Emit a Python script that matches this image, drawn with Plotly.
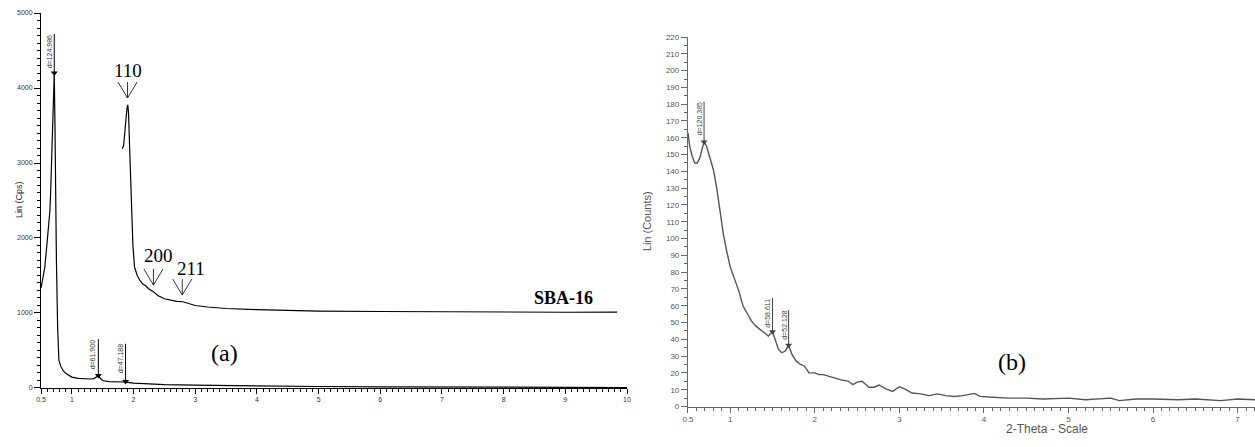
import plotly.graph_objects as go

# ---------------- Panel (a) data ----------------
a_x = [0.50, 0.53, 0.56, 0.60, 0.63, 0.645, 0.66, 0.68, 0.70, 0.715, 0.725, 0.735, 0.75, 0.77, 0.79,
       0.82, 0.86, 0.90, 0.95, 1.00, 1.10, 1.20, 1.30, 1.36, 1.40, 1.43, 1.46, 1.50, 1.60, 1.70,
       1.80, 1.85, 1.87, 1.90, 2.00, 2.20, 2.50, 3.00, 3.50, 4.00, 5.00, 6.00, 7.00, 8.00, 9.00, 10.0]
a_y = [1330, 1450, 1600, 1950, 2250, 2370, 2700, 3300, 3900, 4200, 3600, 2700, 1700, 800, 370,
       290, 230, 195, 165, 145, 128, 122, 120, 125, 145, 165, 130, 100, 85, 80,
       76, 80, 92, 74, 65, 55, 46, 38, 31, 26, 20, 16, 13, 11, 9, 6]

# SBA-16 pattern overlaid in panel (a)
s_x = [1.82, 1.84, 1.86, 1.88, 1.895, 1.908, 1.92, 1.935, 1.95, 1.97, 1.99, 2.016, 2.06, 2.10, 2.15,
       2.20, 2.25, 2.32, 2.40, 2.50, 2.60, 2.70, 2.80, 2.90, 3.00, 3.20, 3.50, 4.00, 4.50, 5.00,
       6.00, 7.00, 8.00, 9.00, 9.84]
s_y = [3190, 3240, 3420, 3620, 3740, 3775, 3650, 3250, 2800, 2300, 1900, 1615, 1500, 1440, 1385,
       1360, 1320, 1285, 1230, 1190, 1170, 1155, 1150, 1120, 1100, 1080, 1060, 1045, 1035, 1025,
       1020, 1015, 1012, 1010, 1012]

a_peaks_x = [0.715, 1.43, 1.871]
a_peaks_y = [4200, 165, 88]
a_peaks_top = [4720, 650, 590]
a_peak_labels = ["d=124.986", "d=61.900", "d=47.188"]
a_label_y = [4480, 440, 390]

miller_labels = ["110", "200", "211"]
miller_x = [1.903, 2.323, 2.790]
miller_tip_y = [3867, 1373, 1240]
miller_top_y = [4080, 1587, 1453]
miller_half_w = [0.155, 0.155, 0.155]
miller_text_x = [1.903, 2.41, 2.935]
miller_text_y = [4227, 1760, 1587]

a_xticks = [0.5, 1, 2, 3, 4, 5, 6, 7, 8, 9, 10]
a_xtext = ["0.5", "1", "2", "3", "4", "5", "6", "7", "8", "9", "10"]
a_yticks = [0, 1000, 2000, 3000, 4000, 5000]

# ---------------- Panel (b) data ----------------
b_x = [0.50, 0.52, 0.55, 0.58, 0.61, 0.64, 0.67, 0.69, 0.72, 0.76, 0.80, 0.84, 0.88, 0.92, 0.96,
       1.00, 1.05, 1.10, 1.15, 1.20, 1.25, 1.30, 1.35, 1.40, 1.45, 1.50, 1.53, 1.57, 1.61, 1.65,
       1.69, 1.73, 1.78, 1.83, 1.88, 1.93, 2.00, 2.05, 2.10, 2.20, 2.30, 2.40, 2.45, 2.50, 2.56,
       2.64, 2.70, 2.76, 2.84, 2.92, 3.00, 3.08, 3.15, 3.25, 3.35, 3.45, 3.55, 3.65, 3.75, 3.89,
       3.95, 4.10, 4.30, 4.50, 4.70, 5.00, 5.20, 5.50, 5.60, 5.80, 6.00, 6.30, 6.50, 6.80, 7.00, 7.21]
b_y = [163, 155, 149, 145, 145, 148, 154, 157.5, 155, 148, 141, 130, 115, 102, 92,
       83, 76, 69, 60, 55, 51, 48, 46, 44, 42, 44.5, 40, 34, 32, 33,
       36.5, 31, 27, 25, 24, 20, 20, 19, 19, 17.5, 16, 15, 13, 14.5, 15,
       11.5, 11.5, 12.8, 10.5, 9, 11.8, 10, 8, 7.5, 6.5, 7.5, 6.5, 6, 6.5, 7.8,
       6, 5.5, 5, 5, 4.5, 5, 4, 5, 3.5, 4.5, 4.5, 4, 4.5, 3.5, 4.5, 4]

b_peaks_x = [0.69, 1.50, 1.69]
b_peaks_y = [157.5, 44.5, 36.5]
b_peaks_top = [181.5, 64.7, 57.5]
b_peak_labels = ["d=120.385", "d=58.611", "d=52.128"]
b_label_y = [171, 55.5, 48.5]

b_xticks = [0.5, 1, 2, 3, 4, 5, 6, 7]
b_xtext = ["0.5", "1", "2", "3", "4", "5", "6", "7"]
b_yticks = list(range(0, 230, 10))

fig = go.Figure()

# Panel (a) traces
fig.add_trace(go.Scatter(x=a_x, y=a_y, mode="lines", line=dict(color="black", width=1.2),
                         xaxis="x", yaxis="y", showlegend=False, hoverinfo="skip"))
fig.add_trace(go.Scatter(x=s_x, y=s_y, mode="lines", line=dict(color="black", width=1.2),
                         xaxis="x", yaxis="y", showlegend=False, hoverinfo="skip"))
fig.add_trace(go.Scatter(x=a_peaks_x, y=a_peaks_y, mode="markers",
                         marker=dict(symbol="triangle-down", size=6, color="black"),
                         xaxis="x", yaxis="y", showlegend=False, hoverinfo="skip"))

# Panel (b) traces
GRAY = "#555555"
fig.add_trace(go.Scatter(x=b_x, y=b_y, mode="lines", line=dict(color=GRAY, width=1.4),
                         xaxis="x2", yaxis="y2", showlegend=False, hoverinfo="skip"))
fig.add_trace(go.Scatter(x=b_peaks_x, y=b_peaks_y, mode="markers",
                         marker=dict(symbol="triangle-down", size=6, color="#444"),
                         xaxis="x2", yaxis="y2", showlegend=False, hoverinfo="skip"))

shapes = []
annotations = []

# peak marker lines and labels, panel (a)
for px, py, pt, lab, ly in zip(a_peaks_x, a_peaks_y, a_peaks_top, a_peak_labels, a_label_y):
    shapes.append(dict(type="line", xref="x", yref="y", x0=px, x1=px, y0=py, y1=pt,
                       line=dict(color="black", width=1)))
    annotations.append(dict(xref="x", yref="y", x=px, y=ly, text=lab, textangle=-90,
                            showarrow=False, xshift=-5,
                            font=dict(family="Liberation Sans, Arial", size=7, color="#333")))

# Miller index arrows
for mx, tip, top, hw, lab, tx, ty in zip(miller_x, miller_tip_y, miller_top_y, miller_half_w,
                                         miller_labels, miller_text_x, miller_text_y):
    for x0 in (mx - hw, mx, mx + hw):
        shapes.append(dict(type="line", xref="x", yref="y", x0=x0, x1=mx, y0=top, y1=tip,
                           line=dict(color="black", width=0.8)))
    annotations.append(dict(xref="x", yref="y", x=tx, y=ty, text=lab, showarrow=False,
                            font=dict(family="Liberation Serif, Times New Roman", size=19,
                                      color="black")))

# peak marker lines and labels, panel (b)
for px, py, pt, lab, ly in zip(b_peaks_x, b_peaks_y, b_peaks_top, b_peak_labels, b_label_y):
    shapes.append(dict(type="line", xref="x2", yref="y2", x0=px, x1=px, y0=py, y1=pt,
                       line=dict(color="#444", width=1)))
    annotations.append(dict(xref="x2", yref="y2", x=px, y=ly, text=lab, textangle=-90,
                            showarrow=False, xshift=-5,
                            font=dict(family="Liberation Sans, Arial", size=7, color="#444")))

# Texts
annotations += [
    dict(xref="paper", yref="paper", x=0.449, y=0.334, text="<b>SBA-16</b>", showarrow=False,
         font=dict(family="Liberation Serif, Times New Roman", size=18, color="black")),
    dict(xref="paper", yref="paper", x=0.1665, y=0.1767, text="(a)", showarrow=False,
         font=dict(family="Liberation Serif, Times New Roman", size=24, color="black")),
    dict(xref="paper", yref="paper", x=0.819, y=0.157, text="(b)", showarrow=False,
         font=dict(family="Liberation Serif, Times New Roman", size=24, color="black")),
    dict(xref="paper", yref="paper", x=0.0096, y=0.5526, text="Lin (Cps)", textangle=-90,
         showarrow=False, font=dict(family="Liberation Sans, Arial", size=9, color="#222")),
    dict(xref="paper", yref="paper", x=0.5155, y=0.505, text="Lin (Counts)", textangle=-90,
         showarrow=False, font=dict(family="Liberation Sans, Arial", size=11, color="#555")),
    dict(xref="paper", yref="paper", x=0.8685, y=0.02, text="2-Theta - Scale",
         showarrow=False, font=dict(family="Liberation Sans, Arial", size=12, color="#555")),
]

axis_a = dict(showgrid=False, zeroline=False, showline=True, linecolor="black", linewidth=1,
              ticks="outside", tickcolor="black", automargin=False,
              tickfont=dict(family="Liberation Sans, Arial", size=7, color="#333"))
axis_b = dict(showgrid=False, zeroline=False, showline=True, linecolor="#666", linewidth=1.2,
              ticks="outside", tickcolor="#666", automargin=False,
              tickfont=dict(family="Liberation Sans, Arial", size=8, color="#555"))

fig.update_layout(
    width=1255, height=447,
    margin=dict(l=0, r=0, t=0, b=0),
    paper_bgcolor="white", plot_bgcolor="white",
    template="none",
    showlegend=False,
    xaxis=dict(axis_a, domain=[0.03267, 0.4996], range=[0.5, 10], anchor="y",
               tickmode="array", tickvals=a_xticks, ticktext=a_xtext, ticklen=5,
               minor=dict(tick0=0, dtick=0.1, ticks="outside", ticklen=3, tickcolor="black")),
    yaxis=dict(axis_a, domain=[0.1320, 0.9709], range=[0, 5000], anchor="x",
               tickmode="array", tickvals=a_yticks, ticklen=6,
               minor=dict(tick0=0, dtick=100, ticks="outside", ticklen=3, tickcolor="black")),
    xaxis2=dict(axis_b, domain=[0.5482, 1.0], range=[0.5, 7.206], anchor="y2",
                tickmode="array", tickvals=b_xticks, ticktext=b_xtext, ticklen=5,
                minor=dict(tick0=0, dtick=0.1, ticks="outside", ticklen=3, tickcolor="#666")),
    yaxis2=dict(axis_b, domain=[0.0906, 0.9172], range=[0, 220], anchor="x2",
                tickmode="array", tickvals=b_yticks, ticklen=6,
                minor=dict(tick0=0, dtick=5, ticks="outside", ticklen=3, tickcolor="#666")),
    shapes=shapes,
    annotations=annotations,
)

fig.write_html("out.html", config={"displayModeBar": False},
               post_script="document.body.style.margin='0';")
